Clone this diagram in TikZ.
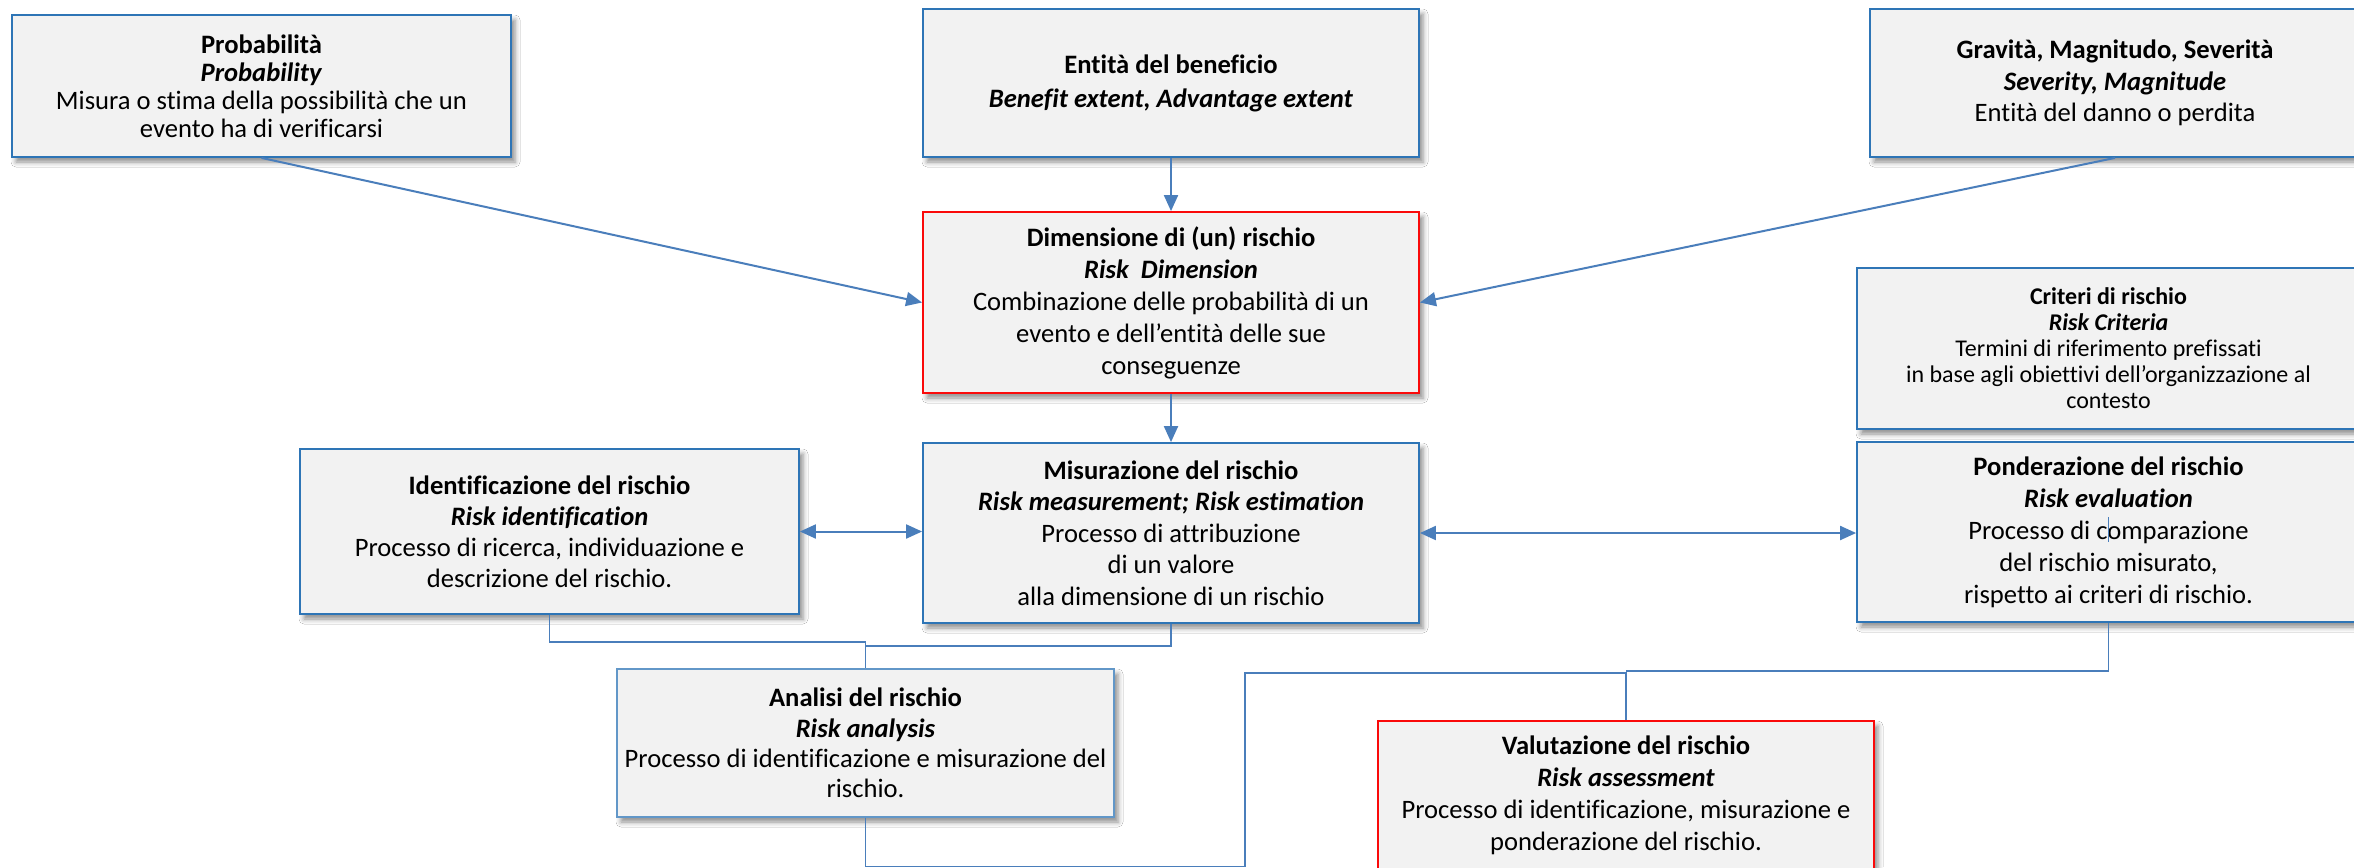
\documentclass[tikz,border=0pt]{standalone}
\usepackage{fontspec}
\setmainfont{Carlito}[Ligatures={NoCommon}]
\usepackage{xcolor}
\usepackage{tikz}
\usetikzlibrary{arrows.meta}
\usetikzlibrary{shadows.blur}
\definecolor{boxblue}{RGB}{46,117,182}
\definecolor{linkblue}{RGB}{74,126,187}
\definecolor{boxfill}{RGB}{242,242,242}
\definecolor{boxred}{RGB}{250,10,10}
\tikzset{>={Triangle[length=8pt,width=7pt]}}
\tikzstyle{box} = [rectangle, draw=boxblue, line width=0.9pt, fill=boxfill, align=center, inner sep=0pt, blur shadow={shadow xshift=2pt, shadow yshift=-2.5pt, shadow blur radius=2.5pt, shadow opacity=45}]
\tikzstyle{redbox} = [box, draw=boxred]
\tikzstyle{link} = [draw=linkblue, line width=1pt]
\tikzstyle{tie} = [draw=linkblue, line width=0.75pt]

\begin{document}
\begin{tikzpicture}[x=0.5pt, y=-0.5pt]
\useasboundingbox (0, 0) rectangle (2354, 867);
\fill [white] (0, 0) rectangle (2354, 867);
\clip (0, 0) rectangle (2354, 867);
% top row
\node [box, minimum width=249.5pt, minimum height=71pt, font=\fontsize{13.3}{14}\selectfont] (P) at (261.5, 86) {\textbf{Probabilità}\\ \textbf{\textit{Probability}}\\ Misura o stima della possibilità che un\\ evento ha di verificarsi};
\node [box, minimum width=248pt, minimum height=74pt, font=\fontsize{13.3}{17}\selectfont] (B) at (1171, 83) {\textbf{Entità del beneficio}\\ \textbf{\textit{Benefit extent, Advantage extent}}};
\node [box, minimum width=245pt, minimum height=74pt, font=\fontsize{13.3}{15.8}\selectfont] (S) at (2115, 83) {\textbf{Gravità, Magnitudo, Severità}\\ \textbf{\textit{Severity, Magnitude}}\\ Entità del danno o perdita};
\node [redbox, minimum width=248pt, minimum height=90.5pt, font=\fontsize{13.3}{16}\selectfont] (D) at (1171, 302.5) {\textbf{Dimensione di (un) rischio}\\ \textbf{\textit{Risk\ \ Dimension}}\\ Combinazione delle probabilità di un\\ evento e dell’entità delle sue\\ conseguenze};
\node [box, minimum width=251.5pt, minimum height=80.5pt, font=\fontsize{12}{13}\selectfont] (C) at (2108.5, 348.5) {\textbf{Criteri di rischio}\\ \textbf{\textit{Risk Criteria}}\\ Termini di riferimento prefissati\\ in base agli obiettivi dell'organizzazione al\\ contesto};
% middle row
\node [box, minimum width=249.5pt, minimum height=82.5pt, font=\fontsize{13.3}{15.5}\selectfont] (I) at (549.5, 531.5) {\textbf{Identificazione del rischio}\\ \textbf{\textit{Risk identification}}\\ Processo di ricerca, individuazione e\\ descrizione del rischio.};
\node [box, minimum width=248pt, minimum height=90pt, font=\fontsize{13.3}{15.8}\selectfont] (M) at (1171, 533) {\textbf{Misurazione del rischio}\\ \textbf{\textit{Risk measurement; Risk estimation}}\\ Processo di attribuzione\\ di un valore\\ alla dimensione di un rischio};
\node [box, minimum width=251.5pt, minimum height=90pt, font=\fontsize{13.3}{16}\selectfont] (W) at (2108.5, 532) {\textbf{Ponderazione del rischio}\\ \textbf{\textit{Risk evaluation}}\\ Processo di comparazione\\ del rischio misurato,\\ rispetto ai criteri di rischio.};
% bottom row
\node [box, draw=boxblue!75, line width=0.6pt, minimum width=248.5pt, minimum height=74pt, font=\fontsize{13.3}{15.2}\selectfont] (A) at (865.5, 743) {\textbf{Analisi del rischio}\\ \textbf{\textit{Risk analysis}}\\ Processo di identificazione e misurazione del\\ rischio.};
\node [redbox, minimum width=248pt, minimum height=74.5pt, font=\fontsize{13.3}{16}\selectfont] (V) at (1626, 795.5) {\textbf{Valutazione del rischio}\\ \textbf{\textit{Risk assessment}}\\ Processo di identificazione, misurazione e\\ ponderazione del rischio.};
% arrows
\draw [->, link] (P.south) to (D.west);
\draw [->, link] (B.south) to (D.north);
\draw [->, link] (S.south) to (D.east);
\draw [->, link] (D.south) to (M.north);
\draw [<->, link] (I.east) to (I.east -| M.west);
\draw [<->, link] (M.east) to (M.east -| W.west);
% joins
\draw [tie] (I.south) -- ++(0, 27) -| (A.north);
\draw [tie] (M.south) -- ++(0, 22) -| (A.north);
\draw [tie] (A.south) -- ++(0, 49) -| (1245, 673) -| (V.north);
\draw [tie] (W.south) |- (V.north |- 0, 671);
\draw [tie, line width=0.5pt] (W.center) ++(0, -15) -- ++(0, 25);
\end{tikzpicture}
\end{document}
